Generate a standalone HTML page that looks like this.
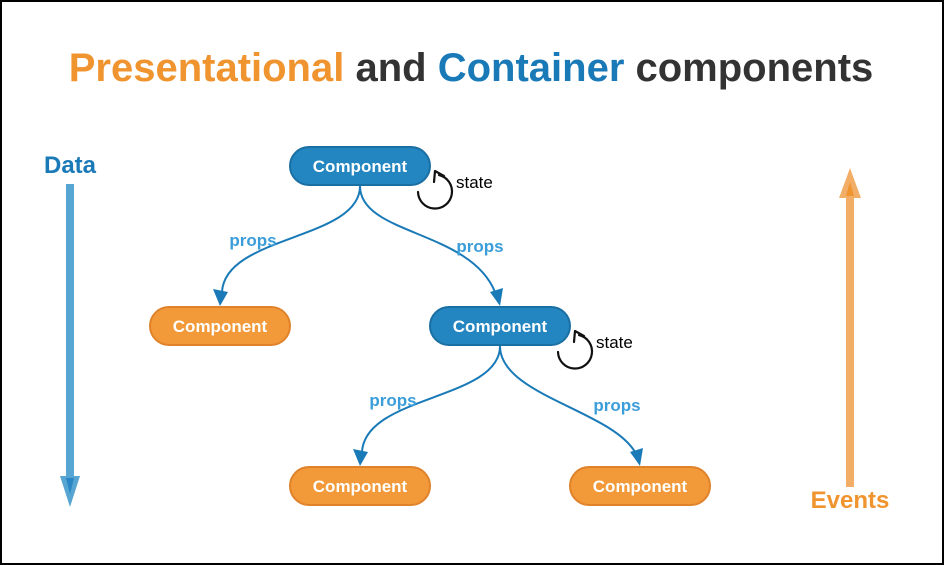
<!DOCTYPE html>
<html><head><meta charset="utf-8"><style>
html,body{margin:0;padding:0;background:#fff}
svg{display:block}
text{font-family:"Liberation Sans",Arial,sans-serif}
</style></head><body>
<svg width="944" height="565" viewBox="0 0 944 565" xmlns="http://www.w3.org/2000/svg">
<rect x="1" y="1" width="942" height="563" fill="#fff" stroke="#000" stroke-width="2"/>
<text x="471" y="81" text-anchor="middle" font-size="40" font-weight="bold" fill="#333"><tspan fill="#f0942f">Presentational</tspan> and <tspan fill="#1a7ab8">Container</tspan> components</text>
<!-- Data arrow -->
<text x="70" y="173" text-anchor="middle" font-size="24" font-weight="bold" fill="#1a7ab8">Data</text>
<rect x="66" y="184" width="8" height="296" fill="#57a5d2"/>
<path d="M60,476 L80,476 L70,507 z" fill="#57a5d2"/>
<path d="M66,478 L74,478 L70,494 z" fill="#2a86c4"/>
<!-- Events arrow -->
<text x="850" y="508" text-anchor="middle" font-size="24" font-weight="bold" fill="#f0942f">Events</text>
<rect x="846" y="195" width="8" height="292" fill="#f2ae66"/>
<path d="M839,198 L861,198 L850,168 z" fill="#f2ae66"/>
<path d="M846,196 L854,196 L850,182 z" fill="#f0942f"/>
<!-- connectors -->
<g fill="none" stroke="#1a7ab8" stroke-width="2">
<path d="M360,186 C360,240 225,235 222,292"/>
<path d="M360,186 C360,235 470,230 495,292"/>
<path d="M500,346 C500,400 365,395 362,452"/>
<path d="M500,346 C500,395 610,410 635,452"/>
</g>
<g fill="#1a7ab8">
<path d="M220,306 L213,289 L228,292 z"/>
<path d="M500,306 L490,292 L503,288 z"/>
<path d="M360,466 L353,449 L368,452 z"/>
<path d="M640,466 L630,452 L643,448 z"/>
</g>
<g font-size="17" font-weight="bold" fill="#3b9dd9">
<text x="253" y="246" text-anchor="middle">props</text>
<text x="480" y="252" text-anchor="middle">props</text>
<text x="393" y="406" text-anchor="middle">props</text>
<text x="617" y="411" text-anchor="middle">props</text>
</g>
<!-- nodes -->
<g stroke-width="2" font-size="17" font-weight="bold">
<rect x="290" y="147" width="140" height="38" rx="19" fill="#2386c0" stroke="#1a6fa3"/>
<rect x="150" y="307" width="140" height="38" rx="19" fill="#f29a3a" stroke="#e0822a"/>
<rect x="430" y="307" width="140" height="38" rx="19" fill="#2386c0" stroke="#1a6fa3"/>
<rect x="290" y="467" width="140" height="38" rx="19" fill="#f29a3a" stroke="#e0822a"/>
<rect x="570" y="467" width="140" height="38" rx="19" fill="#f29a3a" stroke="#e0822a"/>
<g fill="#fff" stroke="none" text-anchor="middle">
<text x="360" y="172">Component</text>
<text x="220" y="332">Component</text>
<text x="500" y="332">Component</text>
<text x="360" y="492">Component</text>
<text x="640" y="492">Component</text>
</g>
</g>
<!-- state icons -->
<g fill="none" stroke="#111" stroke-width="2.2" stroke-linecap="round" stroke-linejoin="round">
<path d="M418,192 A17,17 0 1 0 439,175"/>
<path d="M434,182 L435,171 L444,176"/>
<path d="M558,352 A17,17 0 1 0 579,335"/>
<path d="M574,342 L575,331 L584,336"/>
</g>
<text x="456" y="188" font-size="17" fill="#000">state</text>
<text x="596" y="348" font-size="17" fill="#000">state</text>
</svg>
</body></html>
